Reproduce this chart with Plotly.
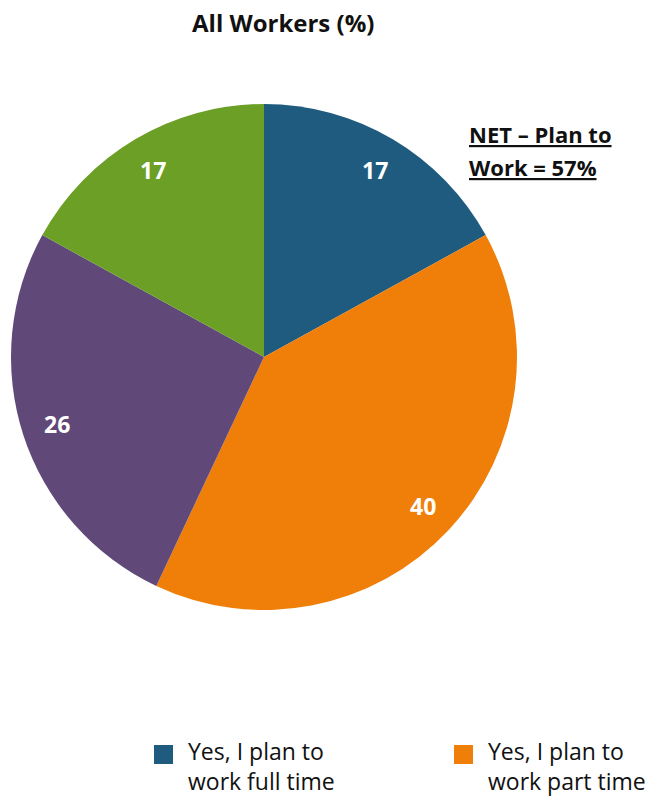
import math
import plotly.graph_objects as go

# Survey shares (%) for all workers, in clockwise order from 12 o'clock
labels = [
    "Yes, I plan to work full time",
    "Yes, I plan to work part time",
    "No, I do not plan to work",
    "Not sure",
]
values = [17, 40, 26, 17]
colors = ["#1F5B7E", "#F07F09", "#604878", "#6B9F25"]

# Legend rows shown below the pie (two lines each)
legend_lines = [
    ["Yes, I plan to", "work full time"],
    ["Yes, I plan to", "work part time"],
]

net_plan_to_work = values[0] + values[1]

W, H = 650, 799
FONT = "'Open Sans', sans-serif"
INK = "#111111"

# pie placement in pixels
CX, CY, R = 264, 357, 253
LABEL_R = 0.86 * R

fig = go.Figure(
    go.Pie(
        labels=labels,
        values=values,
        sort=False,
        direction="clockwise",
        rotation=0,
        marker=dict(colors=colors, line=dict(color="white", width=0)),
        textinfo="none",
        hoverinfo="label+value",
        showlegend=False,
        domain=dict(x=[(CX - R) / W, (CX + R) / W], y=[1 - (CY + R) / H, 1 - (CY - R) / H]),
    )
)

annotations = []

# value labels on each slice, placed along the slice bisector
total = sum(values)
cum = 0
for v in values:
    mid = (cum + v / 2) / total * 2 * math.pi
    cum += v
    px = CX + LABEL_R * math.sin(mid)
    py = CY - LABEL_R * math.cos(mid)
    annotations.append(dict(
        text=f"<b>{v}</b>", x=px / W, y=1 - py / H, xref="paper", yref="paper",
        xanchor="center", yanchor="middle", showarrow=False,
        font=dict(family=FONT, size=23, color="white"),
    ))

annotations.append(dict(
    text="<b>All Workers (%)</b>",
    x=283 / W, y=1 - 23 / H, xref="paper", yref="paper",
    xanchor="center", yanchor="middle", showarrow=False,
    font=dict(family=FONT, size=24, color=INK),
))

net_lines = ["NET – Plan to", f"Work = {net_plan_to_work}%"]
for j, line in enumerate(net_lines):
    annotations.append(dict(
        text=f"<b><u>{line}</u></b>",
        x=467 / W, y=1 - (134 + 33 * j) / H, xref="paper", yref="paper",
        xanchor="left", yanchor="middle", align="left", showarrow=False,
        font=dict(family=FONT, size=22, color=INK),
    ))

shapes = []
legend_x = [154, 454]
for i, lines in enumerate(legend_lines):
    x0 = legend_x[i]
    shapes.append(dict(
        type="rect", xref="paper", yref="paper",
        x0=x0 / W, x1=(x0 + 19) / W, y0=1 - 764 / H, y1=1 - 745 / H,
        fillcolor=colors[i], line=dict(width=0),
    ))
    annotations.append(dict(
        text="<br>".join(lines), x=(x0 + 33) / W, y=1 - 798 / H,
        xref="paper", yref="paper",
        xanchor="left", yanchor="bottom", align="left", showarrow=False,
        borderpad=0,
        font=dict(family=FONT, size=23, color=INK),
    ))

fig.update_layout(
    width=W, height=H,
    margin=dict(l=0, r=0, t=0, b=0),
    paper_bgcolor="white", plot_bgcolor="white",
    annotations=annotations, shapes=shapes,
)

fig.write_html("out.html")
